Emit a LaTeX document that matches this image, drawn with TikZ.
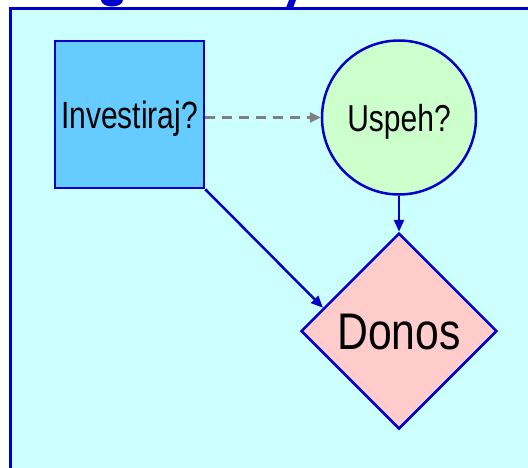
\documentclass[tikz,border=0pt]{standalone}
\usepackage{fontspec}
\setmainfont{Liberation Sans}
\usetikzlibrary{shapes.geometric,arrows.meta}
\definecolor{edgeblue}{RGB}{0,0,204}
\definecolor{panel}{RGB}{204,255,255}
\definecolor{sqfill}{RGB}{102,204,255}
\definecolor{circfill}{RGB}{204,255,204}
\definecolor{diafill}{RGB}{255,204,204}
\tikzset{
  shapeline/.style={draw=edgeblue, line width=2.5pt, inner sep=0pt},
  decisionbox/.style={shapeline, rectangle, fill=sqfill, minimum width=149pt, minimum height=147pt,
    font=\fontsize{38}{38}\selectfont, text height=27pt, text depth=0pt},
  chancenode/.style={shapeline, circle, fill=circfill, minimum size=154pt,
    font=\fontsize{37.5}{37.5}\selectfont, text height=27pt, text depth=0pt},
  payoffnode/.style={shapeline, diamond, aspect=1, fill=diafill, minimum width=196pt, minimum height=196pt,
    font=\fontsize{51.5}{51.5}\selectfont, text height=37pt, text depth=0pt},
  link/.style={draw=edgeblue, line width=2.5pt, -{Triangle[length=12pt,width=10pt]}},
  maybe/.style={draw=gray, line width=2.5pt, dash pattern=on 10pt off 7pt, -{Triangle[length=11pt,width=10pt]}},
}
\newcommand{\narrow}[2]{\scalebox{#1}[1]{#2}}
\begin{document}
\begin{tikzpicture}[x=1pt, y=-1pt]
  \useasboundingbox (0,0) rectangle (528,467);
  \clip (0,0) rectangle (528,467);
  % descenders of the heading above the panel
  \fill[edgeblue] (112,0) ellipse [x radius=11pt, y radius=6.5pt];
  \fill[edgeblue] (286,8) -- (293,8) -- (296,0) -- (289,0) -- cycle;
  % panel
  \draw[edgeblue, line width=3pt, fill=panel] (10,8.5) rectangle (560,500);
  % nodes
  \node[decisionbox] (sq) at (129.5,114.5) {\narrow{0.79}{Investiraj?}};
  \node[chancenode] (ch) at (399,117.5) {\narrow{0.8}{Uspeh?}};
  \node[payoffnode] (dn) at (399,331) {\narrow{0.83}{Donos}};
  % connectors
  \draw[maybe] (sq.east |- ch.west) -- (ch.west);
  \draw[link] (ch.south) -- (dn.north);
  \draw[link] (sq.south east) -- (dn.163);
\end{tikzpicture}
\end{document}
